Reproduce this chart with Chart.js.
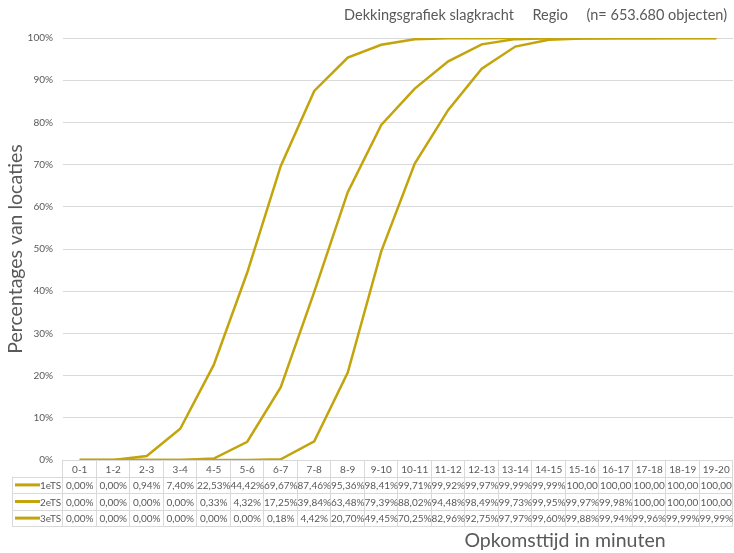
<!DOCTYPE html>
<html>
<head>
<meta charset="utf-8">
<script src="https://cdn.jsdelivr.net/npm/chart.js@4"></script>
<style>
  html, body { margin: 0; padding: 0; background: #fff; }
  #wrap { width: 734px; height: 553px; }
</style>
</head>
<body>
<div id="wrap"><canvas id="chart" width="734" height="553"></canvas></div>
<script>
// categories (minutes) and series values in %
const categories = ["0-1","1-2","2-3","3-4","4-5","5-6","6-7","7-8","8-9","9-10","10-11","11-12","12-13","13-14","14-15","15-16","16-17","17-18","18-19","19-20"];
const seriesNames = ["1eTS", "2eTS", "3eTS"];
const ts1 = [0, 0, 0.94, 7.40, 22.53, 44.42, 69.67, 87.46, 95.36, 98.41, 99.71, 99.92, 99.97, 99.99, 99.99, 100, 100, 100, 100, 100];
const ts2 = [0, 0, 0, 0, 0.33, 4.32, 17.25, 39.84, 63.48, 79.39, 88.02, 94.48, 98.49, 99.73, 99.95, 99.97, 99.98, 100, 100, 100];
const ts3 = [0, 0, 0, 0, 0, 0, 0.18, 4.42, 20.70, 49.45, 70.25, 82.96, 92.75, 97.97, 99.60, 99.88, 99.94, 99.96, 99.99, 99.99];
const yTicks = [0, 10, 20, 30, 40, 50, 60, 70, 80, 90, 100];

const lineColor = "#C3A40C";
const gridColor = "#D9D9D9";
const textColor = "#595959";
const fontFam = "Lato, 'Open Sans', sans-serif";
const allSeries = [ts1, ts2, ts3];

// Excel style cell text: 2 decimals with comma, 100 gets clipped to "100,00"
function cellText(v) {
    if (v === 100) return "100,00";
    return v.toFixed(2).replace(".", ",") + "%";
}

// draws the data table under the plot, using the x scale for the columns
const dataTablePlugin = {
    id: "dataTable",
    afterDraw(chart) {
        const ctx = chart.ctx;
        const x = chart.scales.x;
        const area = chart.chartArea;
        const left = area.left, right = area.right;
        const colW = (right - left) / categories.length;
        const top = area.bottom;
        const rowH = 16.6;
        const labelLeft = 12;

        ctx.save();
        ctx.strokeStyle = gridColor;
        ctx.lineWidth = 1;

        // horizontal lines
        for (let r = 0; r <= 4; r++) {
            const y = Math.round(top + r * rowH) + 0.5;
            ctx.beginPath();
            ctx.moveTo(r === 0 ? left : labelLeft, y);
            ctx.lineTo(right, y);
            ctx.stroke();
        }
        // vertical lines
        for (let c = 0; c <= categories.length; c++) {
            const xx = Math.round(left + c * colW) - 0.5;
            ctx.beginPath();
            ctx.moveTo(xx, top);
            ctx.lineTo(xx, top + 4 * rowH);
            ctx.stroke();
        }
        ctx.beginPath();
        ctx.moveTo(labelLeft + 0.5, top + rowH);
        ctx.lineTo(labelLeft + 0.5, top + 4 * rowH);
        ctx.stroke();

        ctx.font = "10px " + fontFam;
        ctx.fillStyle = textColor;
        ctx.textAlign = "center";
        ctx.textBaseline = "middle";

        categories.forEach((cat, i) => {
            ctx.fillText(cat, x.getPixelForValue(i), top + rowH / 2 + 1);
        });

        allSeries.forEach((vals, r) => {
            const yy = top + (r + 1.5) * rowH + 1;
            vals.forEach((v, i) => {
                ctx.fillText(cellText(v), x.getPixelForValue(i), yy);
            });
            // legend key + name
            ctx.strokeStyle = lineColor;
            ctx.lineWidth = 3;
            ctx.beginPath();
            ctx.moveTo(15, yy - 1);
            ctx.lineTo(40, yy - 1);
            ctx.stroke();
            ctx.textAlign = "left";
            ctx.fillText(seriesNames[r], 40, yy);
            ctx.textAlign = "center";
        });

        // axis titles and chart title
        ctx.fillStyle = textColor;
        ctx.font = "19.5px " + fontFam;
        ctx.textAlign = "center";
        ctx.fillText("Opkomsttijd in minuten", 565, 541);

        ctx.save();
        ctx.translate(16, 249);
        ctx.rotate(-Math.PI / 2);
        ctx.fillText("Percentages van locaties", 0, 0);
        ctx.restore();

        ctx.font = "14.5px " + fontFam;
        ctx.textAlign = "right";
        ctx.fillText("Dekkingsgrafiek slagkracht     Regio     (n= 653.680 objecten)", 727, 15);
        ctx.restore();
    }
};

new Chart(document.getElementById("chart"), {
    type: "line",
    data: {
        labels: categories,
        datasets: allSeries.map((vals, i) => ({
            label: seriesNames[i],
            data: vals,
            borderColor: lineColor,
            backgroundColor: lineColor,
            borderWidth: 2.5,
            pointRadius: 0,
            tension: 0,
            fill: false
        }))
    },
    options: {
        responsive: false,
        animation: false,
        layout: { padding: { top: 38, right: 1, left: 0, bottom: 0 } },
        plugins: {
            legend: { display: false },
            tooltip: { enabled: false },
            title: { display: false }
        },
        scales: {
            x: {
                offset: true,
                grid: { display: false },
                border: { display: false },
                ticks: { display: false },
                afterFit(s) { s.height = 93; }
            },
            y: {
                min: 0,
                max: 100,
                afterBuildTicks(s) { s.ticks = yTicks.map(v => ({ value: v })); },
                afterFit(s) { s.width = 63; },
                grid: { color: gridColor, drawTicks: false },
                border: { display: false },
                ticks: {
                    padding: 10,
                    color: textColor,
                    font: { size: 10, family: fontFam },
                    callback: v => v + "%"
                }
            }
        }
    },
    plugins: [dataTablePlugin]
});
</script>
</body>
</html>
